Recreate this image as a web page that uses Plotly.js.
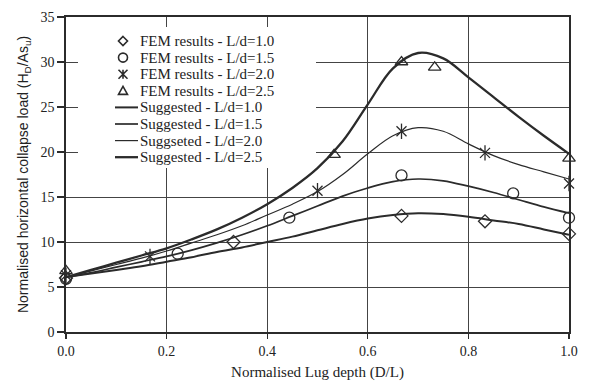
<!DOCTYPE html>
<html>
<head>
<meta charset="utf-8">
<script src="https://cdn.plot.ly/plotly-3.0.1.min.js"></script>
<style>html,body{margin:0;padding:0;background:#fff;}#chart{width:591px;height:383px;}</style>
</head>
<body>
<div id="chart"></div>
<script>
// FEM results
const femX_10 = [0, 0.333, 0.667, 0.833, 1.0];
const femY_10 = [6.0, 10.0, 12.9, 12.3, 10.9];
const femX_15 = [0, 0.222, 0.444, 0.667, 0.889, 1.0];
const femY_15 = [5.9, 8.7, 12.7, 17.4, 15.4, 12.7];
const femX_20 = [0, 0.167, 0.5, 0.667, 0.833, 1.0];
const femY_20 = [6.3, 8.4, 15.7, 22.3, 19.9, 16.5];
const femX_25 = [0, 0.533, 0.667, 0.733, 1.0];
const femY_25 = [6.8, 19.7, 30.0, 29.4, 19.3];

// Suggested curves
const sugX = [0, 0.05, 0.1, 0.15, 0.2, 0.25, 0.3, 0.35, 0.4, 0.45, 0.5, 0.55, 0.6, 0.65, 0.7, 0.75, 0.8, 0.85, 0.9, 0.95, 1.0];
const sugY_10 = [6.1, 6.5, 6.9, 7.3, 7.8, 8.3, 8.9, 9.4, 10.0, 10.6, 11.3, 12.0, 12.6, 13.0, 13.2, 13.1, 12.8, 12.4, 12.0, 11.4, 10.8];
const sugY_15 = [6.1, 6.6, 7.2, 7.8, 8.4, 9.1, 9.9, 10.8, 11.8, 12.9, 14.0, 15.1, 16.0, 16.7, 17.0, 16.8, 16.2, 15.5, 14.7, 13.9, 13.2];
const sugY_20 = [6.1, 6.8, 7.5, 8.2, 9.0, 9.9, 10.8, 11.8, 13.0, 14.2, 15.6, 17.5, 19.8, 21.8, 22.7, 22.3, 20.9, 19.6, 18.6, 17.8, 17.0];
const sugY_25 = [6.1, 6.9, 7.7, 8.5, 9.3, 10.3, 11.4, 12.7, 14.2, 16.0, 18.2, 21.2, 25.3, 29.3, 31.0, 30.4, 28.3, 26.1, 23.9, 21.8, 19.8];

const femNames = ['FEM results - L/d=1.0', 'FEM results - L/d=1.5', 'FEM results - L/d=2.0', 'FEM results - L/d=2.5'];
const sugNames = ['Suggested - L/d=1.0', 'Suggested - L/d=1.5', 'Suggseted - L/d=2.0', 'Suggested - L/d=2.5'];

const xTicks = [0, 0.2, 0.4, 0.6, 0.8, 1.0];
const xTickText = ['0.0', '0.2', '0.4', '0.6', '0.8', '1.0'];
const yTicks = [0, 5, 10, 15, 20, 25, 30, 35];

const ink = '#2b2b2b';
const serif = 'Liberation Serif, Times New Roman, serif';
const sugWidths = [2.0, 1.7, 1.2, 2.3];

function fem(x, y, name, symbol, size) {
  return {x: x, y: y, name: name, type: 'scatter', mode: 'markers', showlegend: false,
    marker: {symbol: symbol, size: size, color: ink, line: {color: ink, width: 1.3}},
    cliponaxis: false};
}
function sug(y, name, w) {
  return {x: sugX, y: y, name: name, type: 'scatter', mode: 'lines', showlegend: false,
    line: {color: ink, width: w, shape: 'spline', smoothing: 1.0}};
}

const traces = [
  sug(sugY_10, sugNames[0], sugWidths[0]),
  sug(sugY_15, sugNames[1], sugWidths[1]),
  sug(sugY_20, sugNames[2], sugWidths[2]),
  sug(sugY_25, sugNames[3], sugWidths[3]),
  fem(femX_10, femY_10, femNames[0], 'diamond-open', 10),
  fem(femX_15, femY_15, femNames[1], 'circle-open', 11),
  fem(femX_20, femY_20, femNames[2], 'x-thin-open', 10),
  fem(femX_20, femY_20, femNames[2], 'line-ns-open', 11),
  fem(femX_25, femY_25, femNames[3], 'triangle-up-open', 11)
];

// ---- hand-drawn legend (layout only) ----
const PL = 66, PR = 569, PT = 17, PB = 332;
const px = v => (v - PL) / (PR - PL);
const py = v => (PB - v) / (PB - PT);
const rowTop = 41, rowStep = 16.6;
const symX = 123, textX = 138;
const shapes = [];
const annotations = [];

// white legend backdrop hiding grid lines
shapes.push({type: 'rect', layer: 'above', xref: 'paper', yref: 'paper',
  x0: px(78), x1: px(316), y0: py(168), y1: py(27),
  fillcolor: '#fff', line: {width: 0}});

function symPath(kind, cx, cy, r) {
  const X = v => px(v).toFixed(5), Y = v => py(v).toFixed(5);
  if (kind === 0) return `M${X(cx)},${Y(cy - r)} L${X(cx + r)},${Y(cy)} L${X(cx)},${Y(cy + r)} L${X(cx - r)},${Y(cy)} Z`;
  if (kind === 2) return `M${X(cx - r)},${Y(cy - r)} L${X(cx + r)},${Y(cy + r)} M${X(cx + r)},${Y(cy - r)} L${X(cx - r)},${Y(cy + r)} M${X(cx)},${Y(cy - r)} L${X(cx)},${Y(cy + r)}`;
  return `M${X(cx)},${Y(cy - r)} L${X(cx + r)},${Y(cy + r * 0.8)} L${X(cx - r)},${Y(cy + r * 0.8)} Z`;
}

femNames.forEach((name, i) => {
  const cy = rowTop + i * rowStep;
  if (i === 1) {
    shapes.push({type: 'circle', xref: 'paper', yref: 'paper', layer: 'above',
      x0: px(symX - 4.5), x1: px(symX + 4.5), y0: py(cy + 4.5), y1: py(cy - 4.5),
      line: {color: ink, width: 1.6}});
  } else {
    shapes.push({type: 'path', xref: 'paper', yref: 'paper', layer: 'above',
      path: symPath(i, symX, cy, 4.5), line: {color: ink, width: 1.6}});
  }
  annotations.push({xref: 'paper', yref: 'paper', x: px(textX), y: py(cy), xanchor: 'left', yanchor: 'middle',
    text: name, showarrow: false, font: {family: serif, size: 15, color: '#222'}});
});
sugNames.forEach((name, i) => {
  const cy = rowTop + (i + 4) * rowStep;
  shapes.push({type: 'line', xref: 'paper', yref: 'paper', layer: 'above',
    x0: px(115), x1: px(138), y0: py(cy), y1: py(cy), line: {color: ink, width: sugWidths[i]}});
  annotations.push({xref: 'paper', yref: 'paper', x: px(138), y: py(cy), xanchor: 'left', yanchor: 'middle',
    text: name, showarrow: false, font: {family: serif, size: 15, color: '#222'}});
});

const layout = {
  width: 591, height: 383,
  margin: {l: PL, r: 591 - PR, t: PT, b: 383 - PB},
  paper_bgcolor: '#fff', plot_bgcolor: '#fff',
  showlegend: false,
  shapes: shapes, annotations: annotations,
  xaxis: {range: [0, 1.0], tickvals: xTicks, ticktext: xTickText,
    showline: true, linecolor: ink, linewidth: 1.8, mirror: true,
    ticks: 'outside', ticklen: 5, tickcolor: ink, tickwidth: 1.2,
    showgrid: true, gridcolor: '#444', gridwidth: 1, zeroline: false,
    tickfont: {family: serif, size: 14, color: '#222'},
    title: {text: 'Normalised Lug depth (D/L)', standoff: 9,
      font: {family: serif, size: 15, color: '#222'}}},
  yaxis: {range: [0, 35], tickvals: yTicks,
    showline: true, linecolor: ink, linewidth: 1.8, mirror: true,
    ticks: 'outside', ticklen: 7, tickcolor: ink, tickwidth: 1.2,
    showgrid: true, gridcolor: '#444', gridwidth: 1, zeroline: false,
    tickfont: {family: serif, size: 14, color: '#222'},
    title: {text: 'Normalised horizontal collapse load (H<sub>D</sub>/As<sub>u</sub>)', standoff: 8,
      font: {family: 'Liberation Sans, Arial, sans-serif', size: 14, color: '#222'}}}
};

Plotly.newPlot('chart', traces, layout, {displayModeBar: false, staticPlot: true});
</script>
</body>
</html>
